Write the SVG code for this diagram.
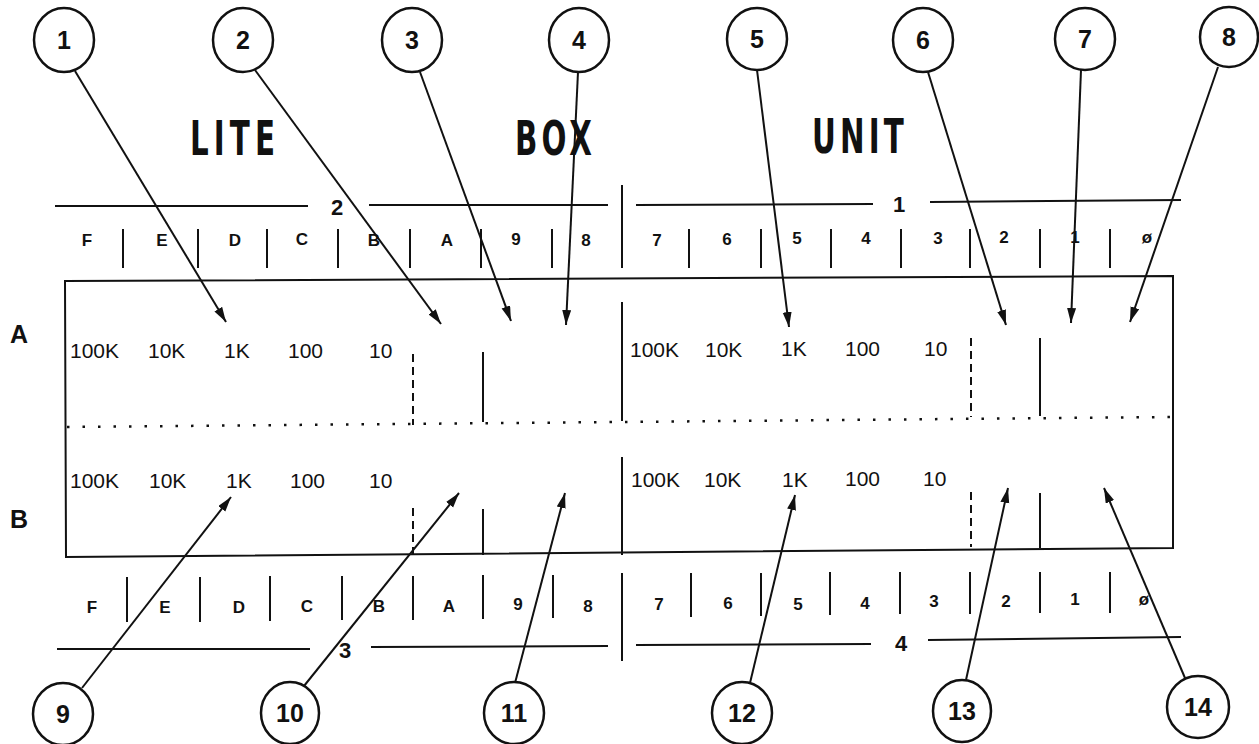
<svg xmlns="http://www.w3.org/2000/svg" width="1259" height="744" viewBox="0 0 1259 744">
<style>
.bg{fill:#ffffff}
.ln{stroke:#111;stroke-width:2;fill:none}
.dash{stroke:#111;stroke-width:2;fill:none;stroke-dasharray:8 5}
.dots{stroke:#111;stroke-width:2.5;fill:none;stroke-dasharray:2.5 13}
.circ{fill:#fff;stroke:#111;stroke-width:2.5}
.num{font-family:"Liberation Sans",Arial,sans-serif;font-weight:bold;font-size:25px;fill:#111;text-anchor:middle}
.title{font-family:"DejaVu Sans Condensed","Liberation Sans",sans-serif;font-weight:bold;font-size:48px;fill:#111}
.scl{font-family:"Liberation Sans",Arial,sans-serif;font-weight:bold;font-size:22px;fill:#111;text-anchor:middle}
.let{font-family:"Liberation Sans",Arial,sans-serif;font-weight:bold;font-size:17px;fill:#111;text-anchor:middle}
.val{font-family:"Liberation Sans",Arial,sans-serif;font-size:21px;fill:#111}
.row{font-family:"Liberation Sans",Arial,sans-serif;font-weight:bold;font-size:25px;fill:#111}
.arr{stroke:#111;stroke-width:2;fill:none;marker-end:url(#ah)}
</style>
<defs>
<marker id="ah" markerUnits="userSpaceOnUse" markerWidth="16" markerHeight="10" refX="15" refY="4.5" orient="auto">
<path d="M0,0 L15,4.5 L0,9 Z" fill="#111"/>
</marker>
</defs>
<rect class="bg" x="0" y="0" width="1259" height="744"/>

<g id="titles">
<text class="title" transform="translate(190,155) scale(0.68,1)" textLength="125" lengthAdjust="spacing">LITE</text>
<text class="title" transform="translate(515,155) scale(0.68,1)" textLength="113" lengthAdjust="spacing">BOX</text>
<text class="title" transform="translate(812,153) scale(0.68,1)" textLength="135" lengthAdjust="spacing">UNIT</text>
</g>

<g id="top-scale">
<line class="ln" x1="55" y1="206" x2="308" y2="206"/>
<text class="scl" x="337" y="215">2</text>
<line class="ln" x1="369" y1="205" x2="608" y2="205"/>
<line class="ln" x1="622" y1="185" x2="622" y2="268"/>
<line class="ln" x1="636" y1="205" x2="873" y2="204"/>
<text class="scl" x="899" y="212">1</text>
<line class="ln" x1="930" y1="202" x2="1181" y2="200"/>
<g class="ticks">
<line class="ln" x1="123" y1="229" x2="123" y2="268"/>
<line class="ln" x1="198" y1="229" x2="198" y2="268"/>
<line class="ln" x1="267" y1="229" x2="267" y2="268"/>
<line class="ln" x1="338" y1="229" x2="338" y2="268"/>
<line class="ln" x1="410" y1="229" x2="410" y2="268"/>
<line class="ln" x1="481" y1="229" x2="481" y2="268"/>
<line class="ln" x1="552" y1="229" x2="552" y2="268"/>
<line class="ln" x1="689" y1="229" x2="689" y2="268"/>
<line class="ln" x1="761" y1="229" x2="761" y2="268"/>
<line class="ln" x1="831" y1="229" x2="831" y2="268"/>
<line class="ln" x1="901" y1="229" x2="901" y2="268"/>
<line class="ln" x1="970" y1="229" x2="970" y2="268"/>
<line class="ln" x1="1040" y1="229" x2="1040" y2="268"/>
<line class="ln" x1="1110" y1="229" x2="1110" y2="268"/>
</g>
<text class="let" x="87" y="246">F</text>
<text class="let" x="162" y="246">E</text>
<text class="let" x="235" y="246">D</text>
<text class="let" x="302" y="245">C</text>
<text class="let" x="374" y="246">B</text>
<text class="let" x="447" y="246">A</text>
<text class="let" x="516" y="245">9</text>
<text class="let" x="586" y="246">8</text>
<text class="let" x="657" y="246">7</text>
<text class="let" x="727" y="245">6</text>
<text class="let" x="797" y="244">5</text>
<text class="let" x="866" y="244">4</text>
<text class="let" x="938" y="244">3</text>
<text class="let" x="1004" y="243">2</text>
<text class="let" x="1075" y="243">1</text>
<text class="let" x="1147" y="243">ø</text>
</g>

<g id="panel">
<polygon class="ln" points="65,281 1173,276 1173,548 66,557"/>
<line class="dots" x1="67" y1="427" x2="1171" y2="417"/>
<line class="ln" x1="622" y1="302" x2="622" y2="421"/>
<line class="ln" x1="622" y1="457" x2="622" y2="555"/>
<line class="dash" x1="413" y1="354" x2="413" y2="425"/>
<line class="dash" x1="413" y1="508" x2="413" y2="554"/>
<line class="ln" x1="483" y1="352" x2="483" y2="422"/>
<line class="ln" x1="483" y1="509" x2="483" y2="555"/>
<line class="dash" x1="971" y1="338" x2="971" y2="417"/>
<line class="dash" x1="971" y1="492" x2="971" y2="547"/>
<line class="ln" x1="1040" y1="338" x2="1040" y2="416"/>
<line class="ln" x1="1040" y1="493" x2="1040" y2="548"/>
<text class="row" x="10" y="343">A</text>
<text class="row" x="10" y="528">B</text>
<text class="val" x="70" y="358">100K</text>
<text class="val" x="148" y="358">10K</text>
<text class="val" x="224" y="358">1K</text>
<text class="val" x="288" y="358">100</text>
<text class="val" x="369" y="358">10</text>
<text class="val" x="630" y="357">100K</text>
<text class="val" x="705" y="357">10K</text>
<text class="val" x="781" y="356">1K</text>
<text class="val" x="845" y="356">100</text>
<text class="val" x="924" y="356">10</text>
<text class="val" x="70" y="488">100K</text>
<text class="val" x="149" y="488">10K</text>
<text class="val" x="226" y="488">1K</text>
<text class="val" x="290" y="488">100</text>
<text class="val" x="369" y="488">10</text>
<text class="val" x="631" y="487">100K</text>
<text class="val" x="704" y="487">10K</text>
<text class="val" x="782" y="487">1K</text>
<text class="val" x="845" y="486">100</text>
<text class="val" x="923" y="486">10</text>
</g>

<g id="bottom-scale">
<g class="ticks">
<line class="ln" x1="127" y1="577" x2="127" y2="622"/>
<line class="ln" x1="200" y1="577" x2="200" y2="622"/>
<line class="ln" x1="270" y1="576" x2="270" y2="621"/>
<line class="ln" x1="342" y1="576" x2="342" y2="620"/>
<line class="ln" x1="413" y1="576" x2="413" y2="620"/>
<line class="ln" x1="483" y1="575" x2="483" y2="619"/>
<line class="ln" x1="553" y1="575" x2="553" y2="618"/>
<line class="ln" x1="622" y1="573" x2="622" y2="661"/>
<line class="ln" x1="691" y1="573" x2="691" y2="617"/>
<line class="ln" x1="761" y1="573" x2="761" y2="616"/>
<line class="ln" x1="830" y1="572" x2="830" y2="615"/>
<line class="ln" x1="900" y1="572" x2="900" y2="614"/>
<line class="ln" x1="970" y1="572" x2="970" y2="614"/>
<line class="ln" x1="1040" y1="572" x2="1040" y2="613"/>
<line class="ln" x1="1110" y1="572" x2="1110" y2="613"/>
</g>
<text class="let" x="92" y="613">F</text>
<text class="let" x="165" y="613">E</text>
<text class="let" x="239" y="613">D</text>
<text class="let" x="307" y="612">C</text>
<text class="let" x="379" y="612">B</text>
<text class="let" x="449" y="612">A</text>
<text class="let" x="518" y="610">9</text>
<text class="let" x="588" y="612">8</text>
<text class="let" x="659" y="610">7</text>
<text class="let" x="728" y="609">6</text>
<text class="let" x="798" y="610">5</text>
<text class="let" x="865" y="609">4</text>
<text class="let" x="934" y="607">3</text>
<text class="let" x="1006" y="607">2</text>
<text class="let" x="1075" y="605">1</text>
<text class="let" x="1144" y="605">ø</text>
<line class="ln" x1="57" y1="649" x2="310" y2="649"/>
<text class="scl" x="345" y="658">3</text>
<line class="ln" x1="371" y1="647" x2="608" y2="646"/>
<line class="ln" x1="636" y1="645" x2="871" y2="644"/>
<text class="scl" x="901" y="651">4</text>
<line class="ln" x1="928" y1="640" x2="1181" y2="637"/>
</g>

<g id="connectors">
<line class="arr" x1="75" y1="71" x2="226" y2="322"/>
<line class="arr" x1="255" y1="70" x2="441" y2="324"/>
<line class="arr" x1="420" y1="72" x2="511" y2="321"/>
<line class="arr" x1="578" y1="72" x2="566" y2="325"/>
<line class="arr" x1="757" y1="70" x2="789" y2="327"/>
<line class="arr" x1="928" y1="72" x2="1006" y2="325"/>
<line class="arr" x1="1081" y1="70" x2="1071" y2="323"/>
<line class="arr" x1="1218" y1="67" x2="1130" y2="322"/>
<line class="arr" x1="82" y1="688" x2="231" y2="497"/>
<line class="arr" x1="304" y1="686" x2="459" y2="493"/>
<line class="arr" x1="515" y1="683" x2="565" y2="493"/>
<line class="arr" x1="750" y1="683" x2="795" y2="495"/>
<line class="arr" x1="966" y1="680" x2="1008" y2="488"/>
<line class="arr" x1="1185" y1="678" x2="1104" y2="488"/>
</g>

<g id="n1"><ellipse class="circ" cx="64" cy="40" rx="30" ry="32"/><text class="num" x="64" y="49">1</text></g>
<g id="n2"><ellipse class="circ" cx="243" cy="40" rx="30" ry="32"/><text class="num" x="243" y="49">2</text></g>
<g id="n3"><ellipse class="circ" cx="412" cy="40" rx="30" ry="32"/><text class="num" x="412" y="49">3</text></g>
<g id="n4"><ellipse class="circ" cx="579" cy="40" rx="30" ry="32"/><text class="num" x="579" y="49">4</text></g>
<g id="n5"><ellipse class="circ" cx="757" cy="39" rx="30" ry="31"/><text class="num" x="757" y="48">5</text></g>
<g id="n6"><ellipse class="circ" cx="923" cy="40" rx="30" ry="32"/><text class="num" x="923" y="49">6</text></g>
<g id="n7"><ellipse class="circ" cx="1085" cy="39" rx="30" ry="31"/><text class="num" x="1085" y="48">7</text></g>
<g id="n8"><ellipse class="circ" cx="1229" cy="37" rx="29" ry="30"/><text class="num" x="1229" y="46">8</text></g>
<g id="n9"><ellipse class="circ" cx="63" cy="714" rx="30" ry="31"/><text class="num" x="63" y="723">9</text></g>
<g id="n10"><ellipse class="circ" cx="290" cy="713" rx="29" ry="31"/><text class="num" x="290" y="722">10</text></g>
<g id="n11"><ellipse class="circ" cx="514" cy="713" rx="30" ry="31"/><text class="num" x="514" y="722">11</text></g>
<g id="n12"><ellipse class="circ" cx="742" cy="713" rx="30" ry="31"/><text class="num" x="742" y="722">12</text></g>
<g id="n13"><ellipse class="circ" cx="962" cy="711" rx="29" ry="31"/><text class="num" x="962" y="720">13</text></g>
<g id="n14"><ellipse class="circ" cx="1198" cy="707" rx="31" ry="31"/><text class="num" x="1198" y="716">14</text></g>
</svg>
